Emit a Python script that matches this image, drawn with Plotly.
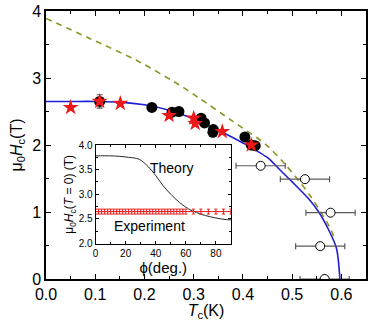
import plotly.graph_objects as go

# Main panel data
fit_T = [0.0, 0.05, 0.10, 0.15, 0.20, 0.25, 0.30, 0.35, 0.40, 0.45, 0.475, 0.50, 0.533, 0.554, 0.575, 0.59, 0.597]
fit_H = [2.65, 2.65, 2.65, 2.64, 2.60, 2.52, 2.39, 2.22, 2.03, 1.81, 1.63, 1.45, 1.20, 1.00, 0.72, 0.46, 0.0]

dash_T = [0.0, 0.089, 0.19, 0.27, 0.311, 0.378, 0.446, 0.486, 0.537, 0.578, 0.586]
dash_H = [3.89, 3.59, 3.24, 2.90, 2.70, 2.36, 2.01, 1.71, 1.24, 0.75, 0.60]

circ_T = [0.109, 0.215, 0.256, 0.27, 0.315, 0.322, 0.34, 0.339, 0.404, 0.417, 0.425]
circ_H = [2.65, 2.56, 2.49, 2.50, 2.40, 2.33, 2.23, 2.19, 2.12, 2.00, 1.99]
circ_err = [0.1, 0, 0, 0, 0, 0, 0, 0, 0, 0, 0]

star_T = [0.05, 0.109, 0.151, 0.25, 0.30, 0.303, 0.358, 0.417]
star_H = [2.56, 2.65, 2.62, 2.44, 2.40, 2.32, 2.20, 2.00]

open_T = [0.436, 0.526, 0.578, 0.557, 0.566]
open_H = [1.69, 1.49, 0.99, 0.49, 0.0]
open_Terr = [0.05, 0.05, 0.05, 0.05, 0.05]

# Inset data
theory_phi = [0, 10, 16, 22, 29, 35, 40, 45, 51, 56, 62, 67, 73, 80, 86, 90]
theory_H = [3.78, 3.78, 3.77, 3.75, 3.71, 3.56, 3.38, 3.17, 2.97, 2.83, 2.70, 2.63, 2.57, 2.52, 2.49, 2.48]

exp_phi = list(range(0, 61, 2)) + [65, 70, 75, 80, 85, 90]
exp_H = [2.65] * len(exp_phi)
exp_err = [0.05] * len(exp_phi)

BLUE = "rgb(30,30,215)"
OLIVE = "rgb(140,150,40)"
RED = "rgb(235,25,25)"
GRAY = "rgb(90,90,90)"
FONT = "Liberation Sans, Arial, sans-serif"

fig = go.Figure()

fig.add_trace(go.Scatter(x=fit_T, y=fit_H, mode="lines", line=dict(color=BLUE, width=1.6, shape="spline", smoothing=0.8),
                         showlegend=False))
fig.add_trace(go.Scatter(x=dash_T, y=dash_H, mode="lines", line=dict(color=OLIVE, width=1.6, dash="6px,5px", shape="spline", smoothing=0.8),
                         showlegend=False))
fig.add_trace(go.Scatter(x=open_T, y=open_H, mode="markers",
                         marker=dict(symbol="circle", size=9, color="white", line=dict(color="black", width=1)),
                         error_x=dict(type="data", array=open_Terr, color=GRAY, thickness=1.2, width=3),
                         showlegend=False))
fig.add_trace(go.Scatter(x=circ_T, y=circ_H, mode="markers",
                         marker=dict(symbol="circle", size=11, color="black"),
                         error_y=dict(type="data", array=circ_err, color=GRAY, thickness=1.2, width=3),
                         showlegend=False))
fig.add_trace(go.Scatter(x=star_T, y=star_H, mode="markers",
                         marker=dict(symbol="star", size=12, color=RED, line=dict(width=0)),
                         showlegend=False))

# Inset
fig.add_trace(go.Scatter(x=theory_phi, y=theory_H, mode="lines", xaxis="x2", yaxis="y2",
                         line=dict(color="rgb(40,40,40)", width=1, shape="spline"), showlegend=False))
fig.add_trace(go.Scatter(x=exp_phi, y=exp_H, mode="lines+markers", xaxis="x2", yaxis="y2",
                         line=dict(color=RED, width=1), marker=dict(size=1, color=RED),
                         error_y=dict(type="data", array=exp_err, color=RED, thickness=1, width=1.5),
                         showlegend=False))

axis_common = dict(showline=True, linecolor="black", linewidth=1.5, mirror="allticks",
                   ticks="inside", tickcolor="black", showgrid=False, zeroline=False)

fig.update_layout(
    width=371, height=321,
    margin=dict(l=46, r=3, t=9, b=42),
    paper_bgcolor="white", plot_bgcolor="white",
    font=dict(family=FONT, color="black"),
    xaxis=dict(range=[0, 0.65], dtick=0.1, tick0=0, tickformat=".1f", ticklen=5, tickwidth=1,
               minor=dict(dtick=0.05, ticks="inside", ticklen=3, tickcolor="black"),
               tickfont=dict(size=16), title=dict(text="<i>T</i><sub>c</sub>(K)", font=dict(size=16), standoff=1),
               **axis_common),
    yaxis=dict(range=[0, 4], dtick=1, tick0=0, ticklen=5, tickwidth=1,
               minor=dict(dtick=0.5, ticks="inside", ticklen=3, tickcolor="black"),
               tickfont=dict(size=16), title=dict(text="μ<sub>0</sub><i>H</i><sub>c</sub>(T)", font=dict(size=16), standoff=6),
               **axis_common),
    xaxis2=dict(domain=[0.155, 0.578], anchor="y2", range=[0, 90], dtick=20, tick0=0, ticklen=3,
                minor=dict(dtick=10, ticks="inside", ticklen=2, tickcolor="black"),
                tickfont=dict(size=10), title=dict(text="ϕ(deg.)", font=dict(size=15), standoff=2),
                showline=True, linecolor="black", linewidth=1, mirror="allticks",
                ticks="inside", tickcolor="black", showgrid=False, zeroline=False),
    yaxis2=dict(domain=[0.132, 0.5], anchor="x2", range=[2, 4], dtick=0.5, tick0=2, tickformat=".1f", ticklen=3,
                minor=dict(dtick=0.25, ticks="inside", ticklen=2, tickcolor="black"),
                tickfont=dict(size=10),
                title=dict(text="μ<sub>0</sub><i>H</i><sub>c</sub>(<i>T</i> = 0) (T)", font=dict(size=12), standoff=2),
                showline=True, linecolor="black", linewidth=1, mirror="allticks",
                ticks="inside", tickcolor="black", showgrid=False, zeroline=False),
    annotations=[
        dict(x=51, y=3.53, xref="x2", yref="y2", text="Theory", showarrow=False, font=dict(size=14)),
        dict(x=36, y=2.35, xref="x2", yref="y2", text="Experiment", showarrow=False, font=dict(size=14)),
    ],
)

fig.write_html("out.html")
